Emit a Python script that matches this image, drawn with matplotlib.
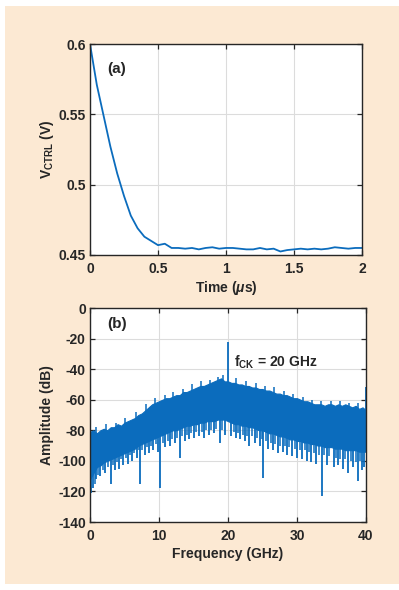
import numpy as np
import matplotlib
matplotlib.use('Agg')
import matplotlib.pyplot as plt
from matplotlib.patches import Rectangle

plt.rcParams['font.family'] = ['Liberation Sans', 'DejaVu Sans']
plt.rcParams['font.weight'] = 'bold'
plt.rcParams['axes.unicode_minus'] = False
plt.rcParams['mathtext.fontset'] = 'custom'
plt.rcParams['mathtext.rm'] = 'Liberation Sans:bold'
plt.rcParams['mathtext.bf'] = 'Liberation Sans:bold'
plt.rcParams['mathtext.it'] = 'Liberation Sans:italic:bold'

# (a) control voltage settling, sampled every 0.05 us
t_us = np.arange(41) * 0.05
v_ctrl = [0.600, 0.571, 0.549, 0.527, 0.508, 0.492, 0.478, 0.469, 0.463, 0.460,
          0.457, 0.458, 0.455, 0.455, 0.4545, 0.455, 0.454, 0.455, 0.4555, 0.4545,
          0.455, 0.455, 0.4545, 0.454, 0.454, 0.455, 0.454, 0.4545, 0.4525, 0.4535,
          0.454, 0.4545, 0.454, 0.4545, 0.454, 0.4545, 0.4555, 0.455, 0.4545, 0.455,
          0.455]

# (b) spectrum band, every 0.5 GHz: upper envelope and lower solid edge (dB)
f_ghz = np.arange(81) * 0.5
amp_top = [-81, -80, -82, -80, -79, -80, -78, -78, -76, -77,
           -75, -74, -73, -72, -70, -69, -67, -65, -63, -62,
           -61, -60, -59, -59, -58, -57, -57, -55, -55, -54,
           -53, -52, -51, -51, -50, -49, -48, -47, -46, -48,
           -48, -49, -49, -50, -50, -51, -51, -52, -52, -53,
           -53, -54, -54, -55, -56, -56, -57, -57, -58, -59,
           -59, -60, -61, -61, -62, -63, -63, -63, -64, -63,
           -63, -64, -63, -64, -63, -64, -65, -64, -66, -65,
           -67]
amp_low = [-112, -108, -104, -103, -101, -100, -99, -98, -97, -96,
           -95, -94, -93, -92, -90, -89, -88, -87, -86, -85,
           -84, -83, -82, -81, -80, -80, -79, -78, -77, -77,
           -76, -76, -75, -75, -74, -74, -74, -73, -73, -73,
           -74, -75, -76, -76, -77, -77, -78, -78, -79, -80,
           -80, -81, -82, -82, -83, -84, -84, -85, -86, -86,
           -87, -87, -88, -88, -89, -89, -90, -90, -91, -91,
           -91, -92, -92, -92, -93, -93, -93, -93, -94, -94,
           -94]

# downward noise spikes: frequency (GHz) and minimum (dB)
dip_f = [0.2, 0.5, 0.9, 1.5, 2.2, 3.0, 3.6, 4.2, 4.8, 5.5, 6.1, 6.8, 7.3, 7.9,
         8.6, 9.2, 9.8, 10.2, 10.9, 11.6, 12.3, 13.0, 13.7, 14.4, 15.1, 15.8,
         16.5, 17.2, 17.9, 18.8, 19.6, 20.4, 21.1, 21.8, 22.5, 23.1, 23.9, 24.6,
         25.1, 25.8, 26.5, 27.2, 27.9, 28.6, 29.3, 30.0, 30.7, 31.4, 32.1, 32.8,
         33.6, 34.3, 35.3, 36.0, 36.7, 37.4, 38.1, 38.9, 39.4, 39.7]
dip_db = [-121, -118, -112, -110, -108, -115, -106, -105, -103, -102, -100, -98,
          -115, -96, -95, -93, -94, -118, -91, -90, -88, -98, -87, -86, -85, -84,
          -85, -83, -82, -88, -83, -84, -85, -86, -87, -90, -88, -90, -111, -92,
          -93, -95, -94, -96, -97, -98, -99, -100, -101, -102, -123, -103, -104,
          -103, -105, -108, -104, -113, -106, -104]

# shorter spikes between them
dip2_f = [0.7, 1.2, 1.9, 2.6, 3.3, 3.9, 4.5, 5.2, 5.8, 6.4, 7.1, 7.6, 8.3, 8.9,
          9.5, 10.6, 11.3, 11.9, 12.6, 13.4, 14.0, 14.7, 15.4, 16.2, 16.8, 17.5,
          18.3, 19.1, 20.8, 21.4, 22.2, 22.8, 23.5, 24.2, 24.9, 25.5, 26.2, 26.8,
          27.5, 28.2, 28.9, 29.7, 30.4, 31.1, 31.8, 32.5, 33.2, 33.9, 34.7, 35.6,
          36.3, 37.0, 37.8, 38.5, 39.1]
dip2_db = [-115, -109, -106, -104, -103, -101, -99, -98, -96, -95, -93, -93, -91,
           -90, -89, -88, -87, -86, -85, -84, -83, -82, -81, -81, -80, -80, -79,
           -80, -81, -82, -83, -84, -84, -85, -86, -87, -88, -89, -90, -90, -91,
           -92, -93, -93, -94, -95, -96, -96, -97, -98, -99, -99, -100, -101, -100]

# small upward spikes on the top edge
bump_f = [0.8, 2.3, 3.7, 5.1, 6.6, 8.1, 9.4, 10.8, 12.1, 13.5, 14.8, 16.1, 17.4,
          18.6, 19.3, 21.2, 22.6, 24.0, 25.4, 26.7, 28.1, 29.4, 30.8, 32.2, 33.5,
          34.9, 36.2, 37.6, 38.9]
bump_db = [-78, -76, -75, -72, -68, -63, -59, -57, -55, -53, -50, -48, -47,
           -45, -44, -46, -48, -49, -51, -52, -54, -56, -58, -60, -61,
           -61, -61, -62, -62]

# upward tones: DC, clock, band edge
tone_f = [0.05, 20.0, 40.0]
tone_db = [0, -22, -52]
tone_base = [-90, -60, -75]

blue = '#0B6CBD'
ink = '#262626'
fig = plt.figure(figsize=(3.99, 5.90), dpi=100)
fig.patch.set_facecolor('white')
fig.patches.append(Rectangle((5 / 399, 6 / 590), 394 / 399, 578 / 590,
                             transform=fig.transFigure, facecolor='#FCE9D3',
                             edgecolor='none', zorder=-10))


def style(ax):
    ax.set_facecolor('white')
    ax.grid(True, color='#dcdcdc', lw=0.8)
    ax.set_axisbelow(True)
    ax.tick_params(direction='in', top=True, right=True, length=3.5, width=0.9,
                   labelsize=10, colors=ink, pad=5)
    for lab in ax.get_xticklabels() + ax.get_yticklabels():
        lab.set_fontweight('bold')
    for s in ax.spines.values():
        s.set_linewidth(1.0)
        s.set_color(ink)


ax1 = fig.add_axes([90 / 399, 1 - 255 / 590, 272 / 399, 211 / 590])
ax1.plot(t_us, v_ctrl, color=blue, lw=1.3)
ax1.set_xlim(0, 2)
ax1.set_ylim(0.45, 0.6)
ax1.set_xticks([0, 0.5, 1, 1.5, 2])
ax1.set_xticklabels(['0', '0.5', '1', '1.5', '2'])
ax1.set_yticks([0.45, 0.5, 0.55, 0.6])
ax1.set_yticklabels(['0.45', '0.5', '0.55', '0.6'])
style(ax1)
ax1.tick_params(axis='y', pad=3)
ax1.set_xlabel(r'Time ($\mu$s)', fontsize=10, fontweight='bold', labelpad=2, color=ink)
ax1.set_ylabel(r'V$_{\mathrm{CTRL}}$ (V)', fontsize=10, fontweight='bold', labelpad=2, color=ink)
ax1.text(0.125, 0.5825, '(a)', fontsize=11, fontweight='bold', va='center', color=ink)

ax2 = fig.add_axes([90 / 399, 1 - 522 / 590, 276 / 399, 214 / 590])
ax2.fill_between(f_ghz, amp_low, amp_top, color=blue, lw=0.8, edgecolor=blue)
ax2.vlines(dip_f, [amp_low[int(round(f * 2))] + 2 for f in dip_f], dip_db, color=blue, lw=1.3)
ax2.vlines(dip2_f, [amp_low[int(round(f * 2))] + 2 for f in dip2_f], dip2_db, color=blue, lw=1.1)
ax2.vlines(bump_f, [amp_top[int(round(f * 2))] - 3 for f in bump_f], bump_db, color=blue, lw=1.1)
ax2.vlines(tone_f, tone_base, tone_db, color=blue, lw=1.3)
ax2.set_xlim(0, 40)
ax2.set_ylim(-140, 0)
ax2.set_xticks([0, 10, 20, 30, 40])
ax2.set_yticks([-140, -120, -100, -80, -60, -40, -20, 0])
style(ax2)
ax2.tick_params(axis='y', pad=3)
ax2.set_xlabel('Frequency (GHz)', fontsize=10, fontweight='bold', labelpad=3, color=ink)
ax2.set_ylabel('Amplitude (dB)', fontsize=10, fontweight='bold', labelpad=3, color=ink)
ax2.text(2.5, -10.5, '(b)', fontsize=11, fontweight='bold', va='center', color=ink)
ax2.text(20.8, -38.5, r'f$_{\mathrm{CK}}$ = 20 GHz', fontsize=10, fontweight='bold',
         va='baseline', color=ink)

fig.savefig('out.png', dpi=100, facecolor=fig.get_facecolor())
